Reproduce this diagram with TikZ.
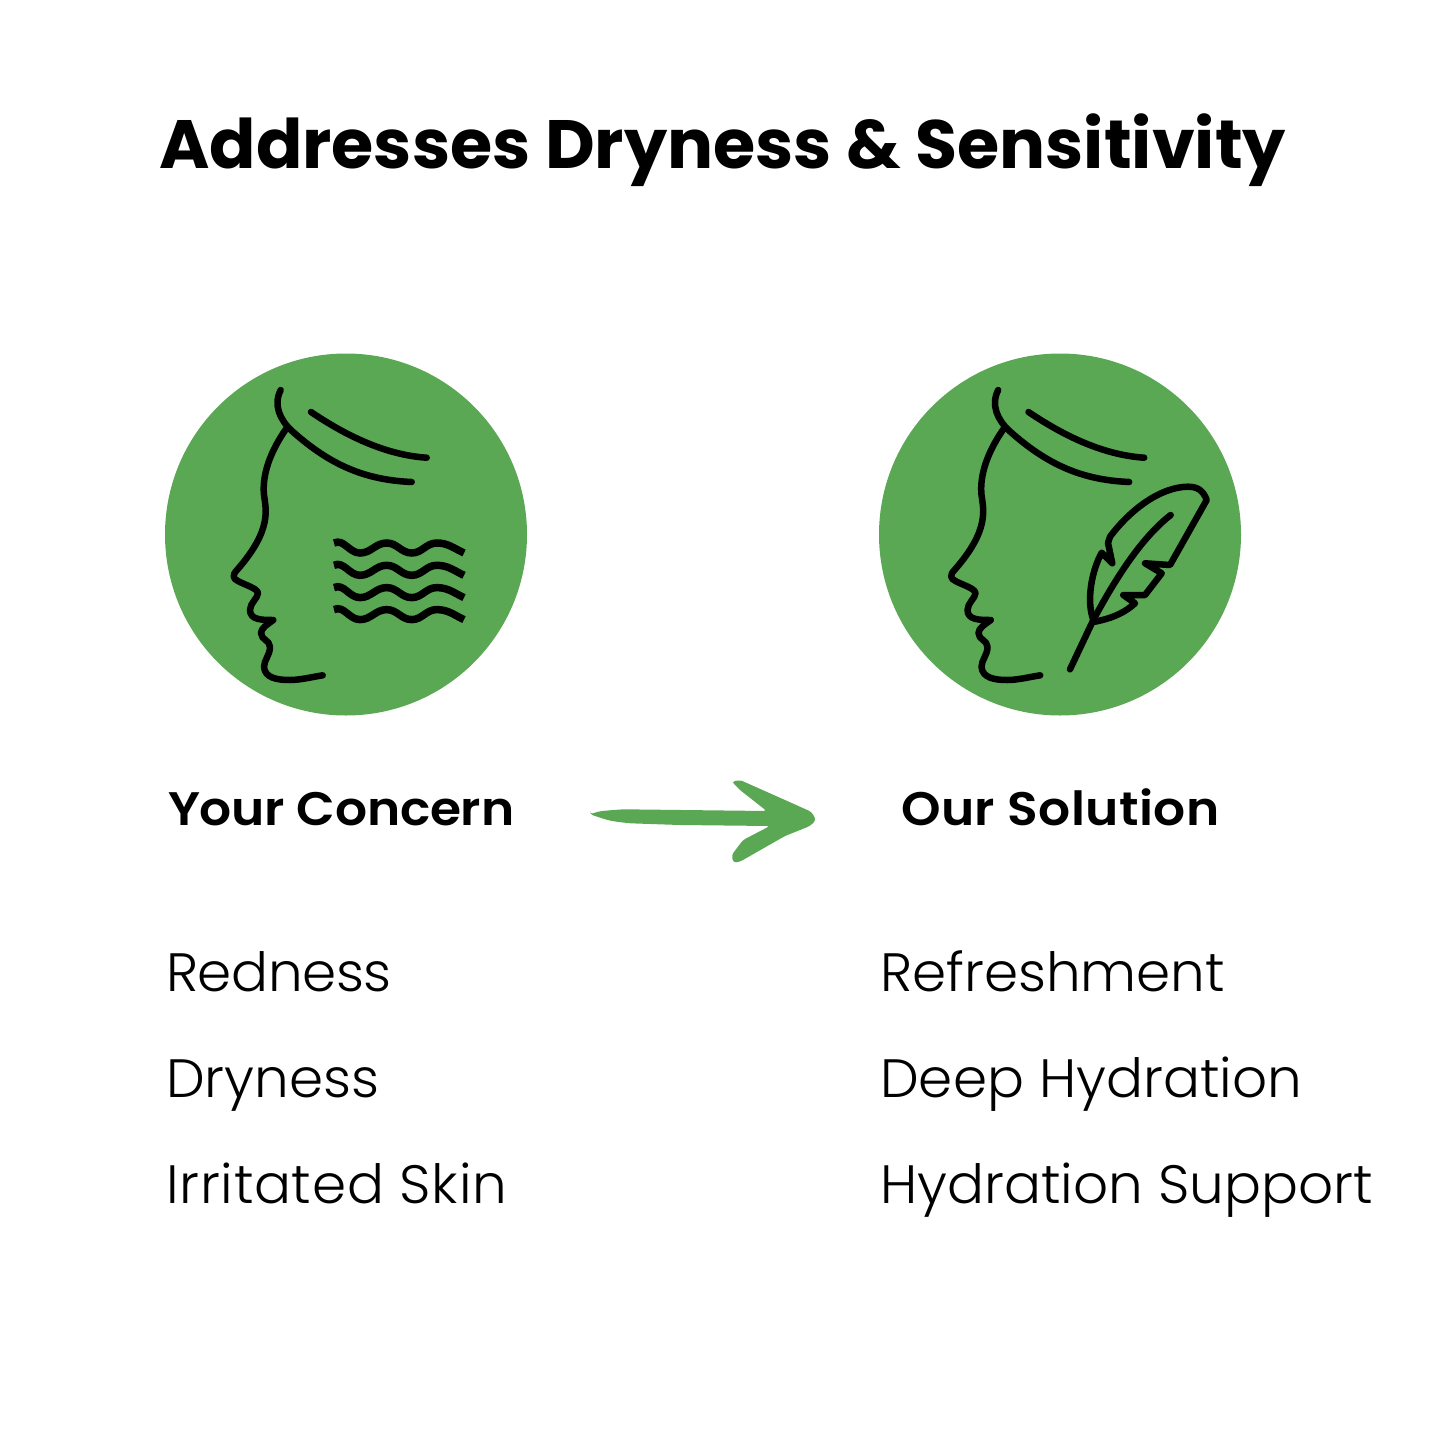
\documentclass[tikz,border=0pt]{standalone}
\usepackage{fontspec}
\setmainfont{Poppins}
\newfontfamily\itemfont[FakeStretch=1.015]{Poppins Light}
\newfontfamily\headfont[FakeStretch=1.07]{Poppins SemiBold}
\definecolor{leafgreen}{HTML}{5AA854}
\tikzset{
	greendisc/.style={fill=leafgreen, draw=none, circle, minimum size=362pt, inner sep=0pt},
	iconline/.style={black, line width=6.5pt, line cap=round, line join=round},
	waveline/.style={black, line width=7.5pt, line cap=butt},
	titletext/.style={anchor=base west, inner sep=0pt, font=\fontsize{68.4}{80}\selectfont\bfseries},
	headtext/.style={anchor=base west, inner sep=0pt, font=\fontsize{47}{56}\selectfont\headfont},
	itemtext/.style={anchor=base west, inner sep=0pt, font=\fontsize{54}{64}\selectfont\itemfont},
	headicon/.pic={
		\draw [iconline] (280.7,390) .. controls (273,405) and (280,420) .. (292,431) .. controls (330,465) and (365,480) .. (411.7,482);
		\draw [iconline] (311,412) .. controls (345,435) and (385,455) .. (426.7,457.7);
		\draw [iconline] (286,429) .. controls (270,452) and (262,475) .. (264,495)
			.. controls (266,510) and (272,530) .. (237,570)
			.. controls (232,575) and (233,579) .. (238,581)
			.. controls (245,585) and (257,588) .. (258,593)
			.. controls (258,598) and (250,603) .. (250,610)
			.. controls (250,620) and (262,620) .. (273.3,620)
			.. controls (268,624) and (261,628) .. (261,633)
			.. controls (261,640) and (270,640) .. (270,647)
			.. controls (270,655) and (264,660) .. (264,667)
			.. controls (265,678) and (277,680) .. (290,680)
			.. controls (300,680) and (312,677) .. (322.7,675.3);
	}
}
\begin{document}
\begin{tikzpicture}[x=1pt, y=-1pt]
	\useasboundingbox (0,0) rectangle (1445,1445);
	\node [titletext] (title) at (159,168) {Addresses Dryness \& Sensitivity};
	\node [greendisc] (concerndisc) at (346,534.5) {};
	\node [greendisc] (solutiondisc) at (1060,534.5) {};
	\pic at (0,0) {headicon};
	\pic at (717.5,0) {headicon};
	% waves
	\foreach \wy in {0,22.3,44.6,66.6}
		\draw [waveline, yshift=-\wy pt] (334,543) to [out=25, in=180] (360,553) to [out=0, in=180] (386.7,543) to [out=0, in=180] (411.7,553) to [out=0, in=180] (436.7,543) to [out=0, in=155] (464,553);
	% feather
	\draw [iconline] (1093.3,620) .. controls (1086,600) and (1092,570) .. (1101.7,552.7) -- (1112.3,563.3) -- (1108,543) -- (1110,536.7)
		.. controls (1130,510) and (1160,487) .. (1188,486.7) .. controls (1197,486.7) and (1203,490) .. (1206.7,500)
		-- (1170,565) -- (1145,563.3) -- (1161.7,573.3) -- (1145,595) -- (1123.3,595) -- (1135,603.3)
		.. controls (1122,615) and (1108,619) .. (1095,621.7);
	\draw [iconline] (1170.7,515) .. controls (1145,535) and (1120,570) .. (1093.3,620) -- (1070,669.3);
	% arrow
	\fill [leafgreen, rounded corners=3pt] (590,814.3) .. controls (600,811) .. (623.3,809.3) -- (766.7,811) -- (740,790) -- (731.7,781.7) -- (740,780) -- (785,800) -- (811.7,812) -- (816,820) -- (810,826) -- (785,836) -- (740,861.7) -- (733.3,862.7) -- (731.7,855) -- (743,840) -- (770,826) -- (680,825) -- (630,823.3) .. controls (610,821) .. cycle;
	\node [headtext] (concern) at (168,825.5) {\addfontfeature{LetterSpace=-0.5}Your Concern};
	\node [headtext] (solution) at (901,825.5) {\addfontfeature{LetterSpace=1}Our Solution};
	\node [itemtext] (redness) at (166,991) {\addfontfeature{LetterSpace=-0.8}Redness};
	\node [itemtext] (dryness) at (166,1097) {Dryness};
	\node [itemtext] (irritated) at (166,1203) {\addfontfeature{LetterSpace=1.4}Irritated Skin};
	\node [itemtext] (refresh) at (880,991) {Refreshment};
	\node [itemtext] (deep) at (880,1097) {Deep Hydration};
	\node [itemtext] (support) at (880,1203) {Hydration Support};
\end{tikzpicture}
\end{document}
